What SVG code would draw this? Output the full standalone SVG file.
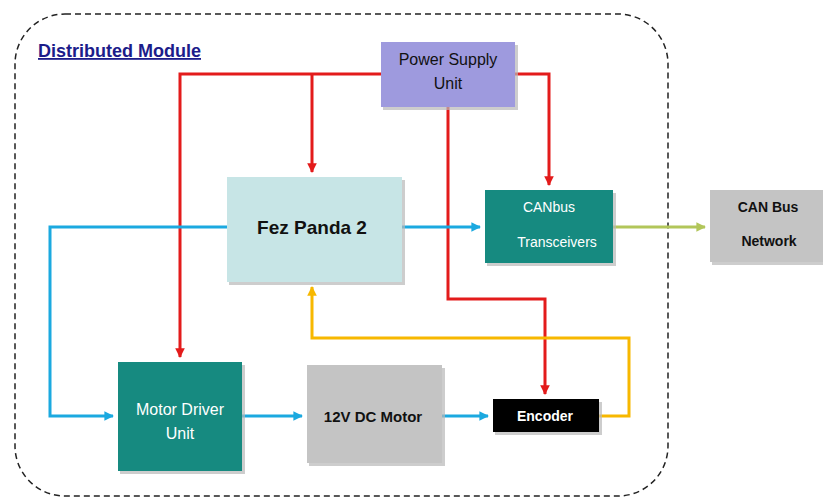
<svg xmlns="http://www.w3.org/2000/svg" width="823" height="498" viewBox="0 0 823 498">
<defs>
<style>
.sh{fill:#b8b8b8;opacity:0.7}
.lbl{font-family:"Liberation Sans",Arial,sans-serif;text-anchor:middle}
.bold{font-weight:bold}
.w{fill:#ffffff}
.d{fill:#111111}
.red{stroke:#e31b1b;stroke-width:3;fill:none}
.blue{stroke:#1ba9e0;stroke-width:3;fill:none}
.green{stroke:#b2c65a;stroke-width:3;fill:none}
.yel{stroke:#f7b800;stroke-width:3;fill:none}
</style>
<marker id="ar" viewBox="0 0 10 10" refX="9" refY="5" markerWidth="3.2" markerHeight="3.2" orient="auto" markerUnits="strokeWidth"><path d="M0,0 L10,5 L0,10 z" fill="#e31b1b"/></marker>
<marker id="ab" viewBox="0 0 10 10" refX="9" refY="5" markerWidth="3.2" markerHeight="3.2" orient="auto" markerUnits="strokeWidth"><path d="M0,0 L10,5 L0,10 z" fill="#1ba9e0"/></marker>
<marker id="ag" viewBox="0 0 10 10" refX="9" refY="5" markerWidth="3.2" markerHeight="3.2" orient="auto" markerUnits="strokeWidth"><path d="M0,0 L10,5 L0,10 z" fill="#b2c65a"/></marker>
<marker id="ay" viewBox="0 0 10 10" refX="9" refY="5" markerWidth="3.2" markerHeight="3.2" orient="auto" markerUnits="strokeWidth"><path d="M0,0 L10,5 L0,10 z" fill="#f7b800"/></marker>
</defs>
<rect width="823" height="498" fill="#ffffff"/>
<g id="container">
<rect x="15" y="14" width="653" height="482" rx="50" ry="50" fill="none" stroke="#222" stroke-width="1.5" stroke-dasharray="6,4"/>
<text x="38" y="57" font-family="'Liberation Sans',Arial,sans-serif" font-size="18" font-weight="bold" fill="#1c1c8a" text-decoration="underline">Distributed Module</text>
</g>
<g id="connectors">
<polyline class="red" points="381,74 180,74 180,357" marker-end="url(#ar)"/>
<polyline class="red" points="312,74 312,172" marker-end="url(#ar)"/>
<polyline class="red" points="515,74 549,74 549,185" marker-end="url(#ar)"/>
<polyline class="red" points="448,107 448,299 545,299 545,394" marker-end="url(#ar)"/>
<polyline class="blue" points="227,227 50,227 50,416 113,416" marker-end="url(#ab)"/>
<polyline class="blue" points="402,227 480,227" marker-end="url(#ab)"/>
<polyline class="blue" points="242,416 302,416" marker-end="url(#ab)"/>
<polyline class="blue" points="442,416 488,416" marker-end="url(#ab)"/>
<polyline class="green" points="613,227 705,227" marker-end="url(#ag)"/>
<polyline class="yel" points="599,416 629,416 629,338 312,338 312,287" marker-end="url(#ay)"/>
</g>
<g id="psu">
<rect class="sh" x="383" y="45" width="135" height="65"/>
<rect x="381" y="42" width="134" height="65" fill="#9e9ade"/>
<text class="lbl d" x="448" y="65" style="font-size:16px">Power Supply</text>
<text class="lbl d" x="448" y="89" style="font-size:16px">Unit</text>
</g>
<g id="fez">
<rect class="sh" x="229" y="180" width="176" height="105"/>
<rect x="227" y="177" width="175" height="105" fill="#c7e5e6"/>
<text class="lbl d bold" x="312" y="234" style="font-size:19px">Fez Panda 2</text>
</g>
<g id="canbus">
<rect class="sh" x="487" y="193" width="129" height="73"/>
<rect x="485" y="190" width="128" height="73" fill="#168a80"/>
<text class="lbl w" x="549" y="212" style="font-size:14px">CANbus</text>
<text class="lbl w" x="557" y="247" style="font-size:14px">Transceivers</text>
</g>
<g id="network">
<rect class="sh" x="712" y="193" width="116" height="72"/>
<rect x="710" y="190" width="116" height="72" fill="#c4c4c4"/>
<text class="lbl d bold" x="768" y="212" style="font-size:14px">CAN Bus</text>
<text class="lbl d bold" x="769" y="246" style="font-size:14px">Network</text>
</g>
<g id="driver">
<rect class="sh" x="120" y="365" width="125" height="109"/>
<rect x="118" y="362" width="124" height="109" fill="#168a80"/>
<text class="lbl w" x="180" y="415" style="font-size:16px">Motor Driver</text>
<text class="lbl w" x="180" y="439" style="font-size:16px">Unit</text>
</g>
<g id="motor">
<rect class="sh" x="309" y="368" width="136" height="98"/>
<rect x="307" y="365" width="135" height="98" fill="#c4c4c4"/>
<text class="lbl d bold" x="373" y="422" style="font-size:15px">12V DC Motor</text>
</g>
<g id="encoder">
<rect class="sh" x="495" y="402" width="107" height="33"/>
<rect x="493" y="399" width="106" height="33" fill="#000000"/>
<text class="lbl w bold" x="545" y="421" style="font-size:14px">Encoder</text>
</g>
</svg>
